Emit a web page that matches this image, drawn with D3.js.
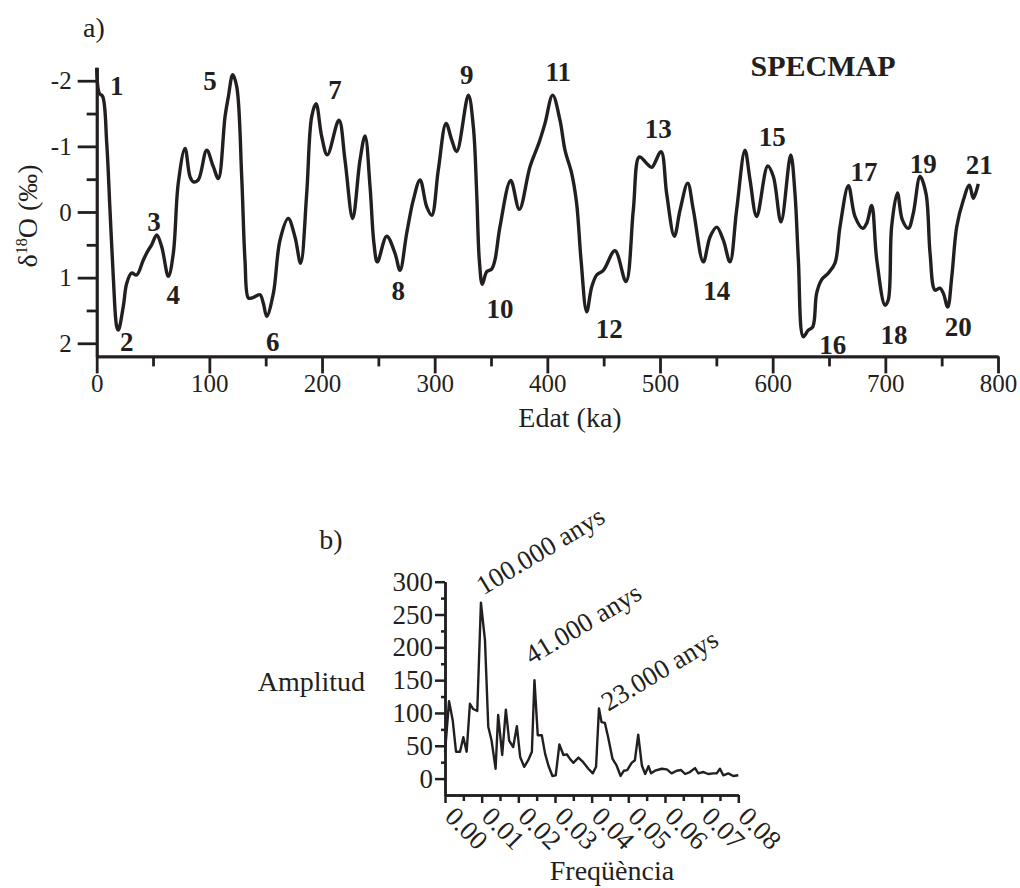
<!DOCTYPE html>
<html lang="ca">
  <head>
    <meta charset="UTF-8" />
    <title>SPECMAP - d3</title>
    <script src="https://d3js.org/d3.v7.min.js"></script>
  </head>
  <style>
    html,
    body {
      margin: 0;
      padding: 0;
      background: #fff;
    }
  </style>
  <body>
    <script>
      // --- dades (llegides de la figura) ---
      // a) corba SPECMAP: edat (ka) i d18O (per mil)
      var edat = [0, 2.3, 5.3, 8.9, 11.8, 14.7, 17.8, 19.2, 23.6, 26.6, 31, 35.5, 41.4, 45.8, 48.8, 53.3, 57.7, 63.6, 68, 72.4, 78.4, 82.8, 85.8, 90.2, 97.6, 103.5, 108, 113.9, 116.8, 120.7, 124.3, 128.7, 131.6, 134.6, 137.6, 140.5, 145, 147.9, 150.9, 156.8, 162.7, 170, 176, 181, 186.4, 190.8, 194.7, 199.7, 204.7, 215, 220.4, 227.2, 233.7, 238.2, 242.6, 246.1, 249.1, 257.4, 264.8, 269.2, 275.2, 281, 287, 292.9, 297.4, 303.2, 310.1, 315.1, 319.6, 329.9, 334.3, 337.3, 339.6, 342.3, 346.2, 350.6, 353.5, 358, 367.5, 375.1, 384.6, 392.9, 397.9, 404.7, 411.2, 415.7, 421.6, 426, 429.9, 434.9, 439.4, 443.8, 449.7, 460, 469.8, 476.3, 481.6, 488.2, 492.6, 500.9, 505.9, 512.7, 517.8, 524.6, 529.6, 538.4, 544.4, 550.3, 556.2, 562.1, 568, 575.4, 579.9, 585.8, 595.6, 600.6, 607.4, 616, 619.8, 622.8, 627.2, 631.6, 635.6, 639, 643.5, 649.4, 655.3, 659.8, 667.2, 673.1, 680, 683.5, 687.9, 692.4, 699.7, 702.6, 705.6, 710.7, 715.1, 720.5, 724.8, 730.8, 736.1, 739.7, 744.1, 748.5, 751.5, 755.4, 759, 763.4, 769.2, 774.6, 778.1, 782.5];
      var d18O = [-2.2, -1.81, -1.76, -1.05, -0.03, 0.98, 1.75, 1.8, 1.44, 1.09, 0.93, 0.96, 0.73, 0.58, 0.5, 0.35, 0.53, 0.98, 0.63, -0.44, -0.97, -0.54, -0.46, -0.49, -0.94, -0.69, -0.51, -1.45, -1.75, -2.09, -1.91, -0.54, 0.73, 1.31, 1.31, 1.29, 1.26, 1.39, 1.59, 1.24, 0.43, 0.1, 0.38, 0.78, -0.28, -1.45, -1.65, -1.15, -0.87, -1.4, -0.79, 0.1, -0.79, -1.16, -0.39, 0.48, 0.76, 0.37, 0.63, 0.89, 0.32, -0.18, -0.49, -0.08, 0.05, -0.64, -1.35, -1.1, -0.92, -1.78, -1.3, -0.28, 0.73, 1.1, 0.91, 0.87, 0.73, 0.22, -0.48, -0.04, -0.69, -1.07, -1.35, -1.78, -1.4, -0.94, -0.59, -0.13, 0.73, 1.52, 1.14, 0.96, 0.89, 0.59, 1.06, -0.03, -0.84, -0.74, -0.68, -0.92, -0.28, 0.37, -0.03, -0.44, -0.03, 0.76, 0.38, 0.23, 0.43, 0.76, -0.03, -0.94, -0.49, 0.07, -0.7, -0.54, 0.15, -0.87, -0.28, 0.73, 1.9, 1.8, 1.75, 1.24, 1.03, 0.93, 0.78, 0.22, -0.4, 0.07, 0.25, 0.17, -0.1, 0.73, 1.42, 1.34, 0.22, -0.29, 0.12, 0.25, 0.02, -0.54, -0.28, 0.63, 1.19, 1.16, 1.24, 1.45, 0.98, 0.22, -0.18, -0.41, -0.21, -0.43];

      // estadis isotopics: numero, edat i valor on va l'etiqueta
      var estadis = ["1", "2", "3", "4", "5", "6", "7", "8", "9", "10", "11", "12", "13", "14", "15", "16", "17", "18", "19", "20", "21"];
      var estadiEdat = [17.8, 26.6, 50.9, 68, 100.6, 156.2, 211.5, 267.7, 328.4, 358, 409.7, 455, 498.5, 550.3, 599.7, 653.3, 681.1, 707.7, 733.7, 764.8, 783.4];
      var estadiVal = [-1.93, 1.98, 0.15, 1.26, -2.01, 1.97, -1.86, 1.19, -2.09, 1.47, -2.14, 1.77, -1.27, 1.19, -1.15, 2.02, -0.61, 1.87, -0.74, 1.75, -0.72];

      var ticksEdat = [0, 100, 200, 300, 400, 500, 600, 700, 800];
      var ticksD18O = [-2, -1, 0, 1, 2];

      // b) espectre: freqüència i amplitud
      var freq = [0, 0.0011, 0.0021, 0.003, 0.0041, 0.005, 0.0059, 0.0068, 0.0077, 0.0088, 0.0098, 0.0109, 0.0118, 0.0127, 0.0138, 0.0145, 0.0156, 0.0166, 0.0175, 0.0186, 0.0196, 0.0205, 0.0216, 0.0227, 0.0237, 0.0244, 0.0253, 0.0264, 0.0273, 0.0282, 0.0293, 0.0302, 0.0312, 0.0323, 0.0332, 0.0341, 0.035, 0.0364, 0.0377, 0.0391, 0.0403, 0.0412, 0.042, 0.0427, 0.0436, 0.0445, 0.0457, 0.0468, 0.0479, 0.0488, 0.0497, 0.0509, 0.0518, 0.0527, 0.0537, 0.0546, 0.0555, 0.0562, 0.0573, 0.0591, 0.0605, 0.0618, 0.0632, 0.0644, 0.0655, 0.0668, 0.0682, 0.0691, 0.0705, 0.0718, 0.0732, 0.0741, 0.075, 0.0759, 0.0773, 0.0786, 0.08];
      var amplitud = [40, 118, 89, 41, 41, 63, 41, 114, 106, 103, 268, 211, 79, 58, 15, 97, 36, 105, 58, 48, 80, 33, 18, 28, 41, 150, 66, 66, 38, 20, 4, 5, 52, 36, 37, 30, 24, 32, 25, 15, 8, 18, 107, 86, 85, 63, 30, 20, 4, 12, 13, 24, 28, 67, 20, 7, 19, 8, 12, 15, 14, 8, 12, 13, 7, 10, 16, 8, 10, 7, 8, 8, 15, 5, 8, 4, 5];

      var ticksFreq = [0, 0.01, 0.02, 0.03, 0.04, 0.05, 0.06, 0.07, 0.08];
      var ticksAmp = [0, 50, 100, 150, 200, 250, 300];

      // periodes marcats sobre els pics
      var periodes = ["100.000 anys", "41.000 anys", "23.000 anys"];
      var periodeFreq = [0.01045, 0.02365, 0.04455];
      var periodeAmp = [279, 173, 102];

      var ink = "#231f20";
      var serif = '"Liberation Serif", "Times New Roman", serif';

      var svg = d3
        .select("body")
        .append("svg")
        .attr("width", 1020)
        .attr("height", 888);

      // ---------- a) SPECMAP ----------
      var x1 = d3.scaleLinear().domain([0, 800]).range([96.7, 998]);
      var y1 = d3.scaleLinear().domain([-2.2, 2.2]).range([67.6, 356.4]);

      var gA = svg.append("g");

      // eix x: menors i majors
      gA.append("g")
        .attr("transform", "translate(0," + y1(2.2) + ")")
        .call(
          d3.axisBottom(x1)
            .tickValues(d3.range(50, 800, 100))
            .tickSize(10)
            .tickSizeOuter(0)
            .tickFormat("")
        );
      gA.append("g")
        .attr("transform", "translate(0," + y1(2.2) + ")")
        .call(
          d3.axisBottom(x1)
            .tickValues(ticksEdat)
            .tickSize(17)
            .tickSizeOuter(0)
            .tickPadding(1)
            .tickFormat(d3.format("d"))
        );

      // eix y
      gA.append("g")
        .attr("transform", "translate(" + x1(0) + ",0)")
        .call(
          d3.axisLeft(y1)
            .tickValues([-1.5, -0.5, 0.5, 1.5])
            .tickSize(10)
            .tickSizeOuter(0)
            .tickFormat("")
        );
      gA.append("g")
        .attr("transform", "translate(" + x1(0) + ",0)")
        .call(
          d3.axisLeft(y1)
            .tickValues(ticksD18O)
            .tickSize(19)
            .tickSizeOuter(0)
            .tickPadding(6)
            .tickFormat(function (d) {
              return String(d);
            })
        );

      gA.selectAll(".domain, .tick line")
        .attr("stroke", ink)
        .attr("stroke-width", 2.8);
      gA.selectAll(".tick text")
        .attr("font-size", 25)
        .attr("fill", ink);

      var linia1 = d3
        .line()
        .x(function (d, i) {
          return x1(edat[i]);
        })
        .y(function (d) {
          return y1(d);
        })
        .curve(d3.curveCatmullRom.alpha(0.5));

      gA.append("path")
        .attr("d", linia1(d18O))
        .attr("fill", "none")
        .attr("stroke", ink)
        .attr("stroke-width", 3.4)
        .attr("stroke-linejoin", "round");

      gA.selectAll(".estadi")
        .data(estadis)
        .enter()
        .append("text")
        .attr("class", "estadi")
        .attr("x", function (d, i) {
          return x1(estadiEdat[i]);
        })
        .attr("y", function (d, i) {
          return y1(estadiVal[i]);
        })
        .attr("dy", "0.35em")
        .attr("text-anchor", "middle")
        .attr("font-size", 27)
        .attr("font-weight", "bold")
        .text(function (d) {
          return d;
        });

      gA.append("text")
        .attr("x", 823)
        .attr("y", 76)
        .attr("text-anchor", "middle")
        .attr("font-size", 30)
        .attr("font-weight", "bold")
        .text("SPECMAP");

      gA.append("text")
        .attr("x", 94)
        .attr("y", 37)
        .attr("text-anchor", "middle")
        .attr("font-size", 28)
        .text("a)");

      gA.append("text")
        .attr("x", 570)
        .attr("y", 427)
        .attr("text-anchor", "middle")
        .attr("font-size", 28)
        .text("Edat (ka)");

      var yl = gA
        .append("text")
        .attr("transform", "translate(37,216) rotate(-90)")
        .attr("text-anchor", "middle")
        .attr("font-size", 28);
      yl.append("tspan").text("δ");
      yl.append("tspan").attr("dy", -10).attr("font-size", 16).text("18");
      yl.append("tspan").attr("dy", 10).text("O (‰)");

      // ---------- b) espectre ----------
      var x2 = d3.scaleLinear().domain([0, 0.08]).range([445, 738.3]);
      var y2 = d3.scaleLinear().domain([-25, 300]).range([795, 581.7]);

      var gB = svg.append("g");

      gB.append("g")
        .attr("transform", "translate(0," + y2(-25) + ")")
        .call(
          d3.axisBottom(x2)
            .tickValues(d3.range(0.005, 0.08, 0.01))
            .tickSize(6)
            .tickSizeOuter(0)
            .tickFormat("")
        );
      var axX2 = gB
        .append("g")
        .attr("transform", "translate(0," + y2(-25) + ")")
        .call(
          d3.axisBottom(x2)
            .tickValues(ticksFreq)
            .tickSize(8)
            .tickSizeOuter(0)
            .tickFormat(d3.format(".2f"))
        );
      axX2.selectAll(".tick text")
        .attr("x", 0)
        .attr("y", 0)
        .attr("dy", 0)
        .attr("text-anchor", "start")
        .attr("transform", "translate(-2,23) rotate(45)");

      gB.append("g")
        .attr("transform", "translate(" + x2(0) + ",0)")
        .call(
          d3.axisLeft(y2)
            .tickValues(d3.range(25, 300, 50))
            .tickSize(4)
            .tickSizeOuter(0)
            .tickFormat("")
        );
      gB.append("g")
        .attr("transform", "translate(" + x2(0) + ",0)")
        .call(
          d3.axisLeft(y2)
            .tickValues(ticksAmp)
            .tickSize(10)
            .tickSizeOuter(0)
            .tickPadding(2)
            .tickFormat(d3.format("d"))
        );

      gB.selectAll(".domain, .tick line")
        .attr("stroke", ink)
        .attr("stroke-width", 2.5);
      gB.selectAll(".tick text")
        .attr("font-size", 27)
        .attr("fill", ink);

      var linia2 = d3
        .line()
        .x(function (d, i) {
          return x2(freq[i]);
        })
        .y(function (d) {
          return y2(d);
        });

      gB.append("path")
        .attr("d", linia2(amplitud))
        .attr("fill", "none")
        .attr("stroke", ink)
        .attr("stroke-width", 2.4)
        .attr("stroke-linejoin", "round");

      gB.selectAll(".periode")
        .data(periodes)
        .enter()
        .append("text")
        .attr("class", "periode")
        .attr("transform", function (d, i) {
          return (
            "translate(" + x2(periodeFreq[i]) + "," + y2(periodeAmp[i]) + ") rotate(-31)"
          );
        })
        .attr("font-size", 27)
        .text(function (d) {
          return d;
        });

      gB.append("text")
        .attr("x", 331)
        .attr("y", 549)
        .attr("text-anchor", "middle")
        .attr("font-size", 28)
        .text("b)");

      gB.append("text")
        .attr("x", 365)
        .attr("y", 691)
        .attr("text-anchor", "end")
        .attr("font-size", 28)
        .text("Amplitud");

      gB.append("text")
        .attr("x", 612)
        .attr("y", 880)
        .attr("text-anchor", "middle")
        .attr("font-size", 28)
        .text("Freqüència");

      // tot el text en serif, també el dels eixos
      svg.selectAll("g").attr("font-family", serif);
      svg.selectAll("text").style("font-family", serif).attr("fill", ink);
    </script>
  </body>
</html>
